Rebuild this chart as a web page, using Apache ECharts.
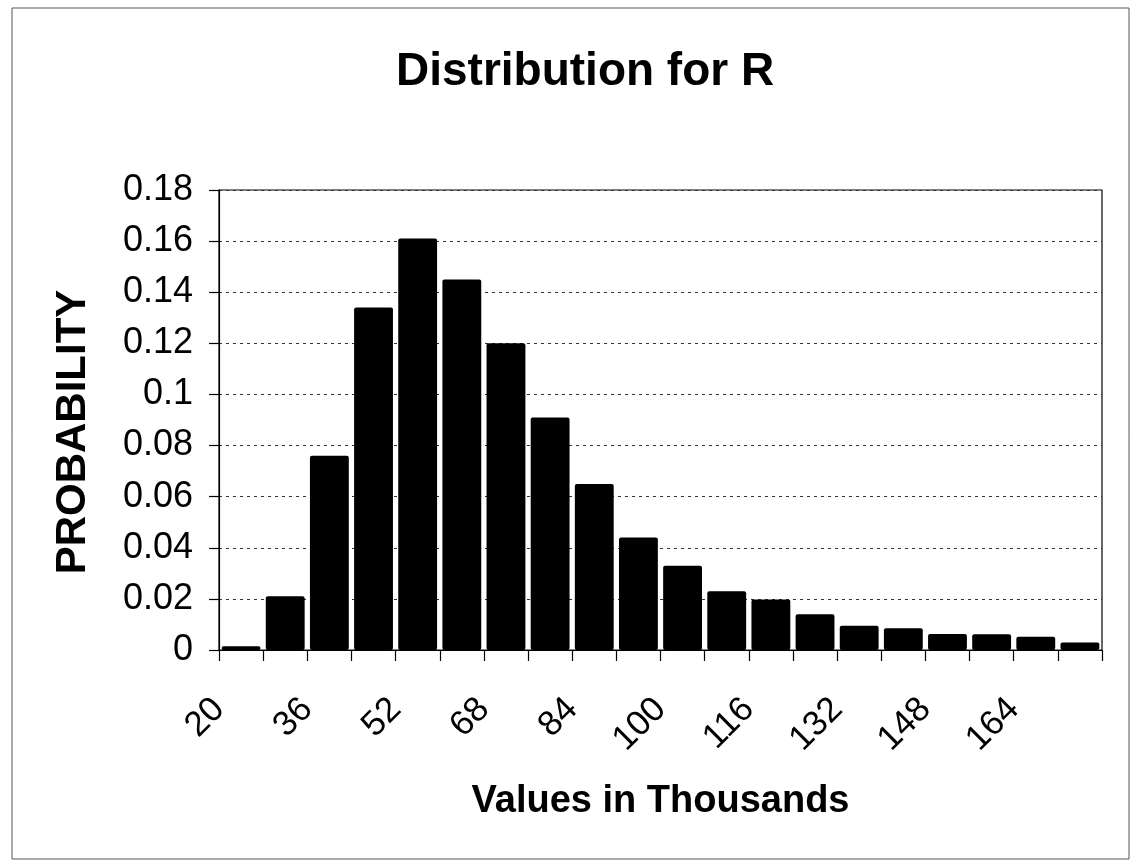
<!DOCTYPE html>
<html>
<head>
<meta charset="utf-8">
<script src="https://cdn.jsdelivr.net/npm/echarts@6/dist/echarts.min.js"></script>
<style>
html,body{margin:0;padding:0;background:#fff;}
#chart{width:1132px;height:868px;}
</style>
</head>
<body>
<div id="chart"></div>
<script>
// Bin starts (in thousands)
const categories = ['20','28','36','44','52','60','68','76','84','92','100','108','116','124','132','140','148','156','164','172'];
// Probability per bin
const probabilities = [0.0015,0.021,0.076,0.134,0.161,0.145,0.12,0.091,0.065,0.044,0.033,0.023,0.0198,0.014,0.0095,0.0085,0.0063,0.0062,0.0052,0.0029];
// Bin edges for the label axis
const binEdges = ['20','28','36','44','52','60','68','76','84','92','100','108','116','124','132','140','148','156','164','172','180'];
// Tick labels shown on the x axis
const xTickLabels = ['20','36','52','68','84','100','116','132','148','164'];
// Y axis ticks
const yTicks = [0,0.02,0.04,0.06,0.08,0.1,0.12,0.14,0.16,0.18];

const FONT = 'Liberation Sans, Arial, sans-serif';
const chart = echarts.init(document.getElementById('chart'), null, {renderer:'canvas'});
chart.setOption({
  backgroundColor:'#fff',
  animation:false,
  title:{
    text:'Distribution for R',
    left:391, top:44,
    textStyle:{fontFamily:FONT,fontWeight:'bold',fontSize:46,color:'#000'}
  },
  graphic:[{
    type:'rect', shape:{x:12,y:8,width:1117,height:851},
    style:{fill:'none',stroke:'#555',lineWidth:1}, silent:true, z:-1
  }],
  grid:{left:219,right:30,top:190,bottom:218,show:true,borderColor:'#000',borderWidth:1.2,containLabel:false},
  xAxis:[{
    type:'category',
    data:categories,
    boundaryGap:true,
    axisLine:{lineStyle:{color:'#000',width:1.2}},
    axisTick:{show:true,alignWithLabel:false,length:11,lineStyle:{color:'#000',width:1.2}},
    axisLabel:{show:false},
    splitLine:{show:false},
    name:'Values in Thousands',
    nameLocation:'middle',
    nameGap:133,
    nameTextStyle:{fontFamily:FONT,fontWeight:'bold',fontSize:38,color:'#000'}
  },{
    type:'category',
    data:binEdges,
    boundaryGap:false,
    position:'bottom',
    axisLine:{show:false},
    axisTick:{show:false},
    splitLine:{show:false},
    axisLabel:{
      interval:0,
      rotate:45,
      margin:54,
      fontFamily:FONT,fontSize:35,color:'#000',
      formatter:function(v){return xTickLabels.indexOf(v)>=0 ? v : '';}
    }
  }],
  yAxis:{
    type:'value',
    min:yTicks[0], max:yTicks[yTicks.length-1], interval:0.02,
    axisLine:{show:true,lineStyle:{color:'#000',width:1.2}},
    axisTick:{show:true,length:10,lineStyle:{color:'#000',width:1.2}},
    axisLabel:{fontFamily:FONT,fontSize:36,color:'#000',margin:26,
      formatter:function(v){return String(parseFloat(v.toFixed(2)));}},
    splitLine:{show:true,lineStyle:{color:'#333',width:1,type:[3,4]}},
    name:'PROBABILITY',
    nameLocation:'middle',
    nameGap:125,
    nameTextStyle:{fontFamily:FONT,fontWeight:'bold',fontSize:42,color:'#000',padding:[0,24,0,0]}
  },
  series:[{
    type:'bar',
    xAxisIndex:0,
    data:probabilities,
    barCategoryGap:'12%',
    itemStyle:{color:'#000',borderRadius:2}
  }]
});
</script>
</body>
</html>
